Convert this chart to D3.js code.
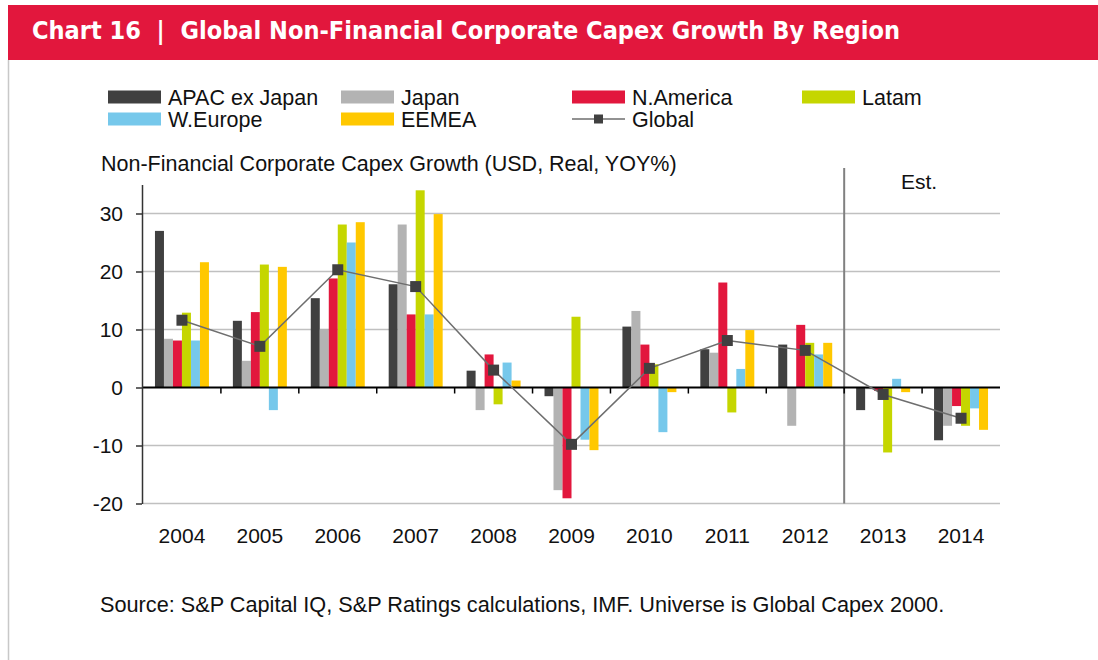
<!DOCTYPE html>
<html>
<head>
<meta charset="utf-8">
<script src="https://cdn.jsdelivr.net/npm/d3@7"></script>
<style>
  body { margin: 0; background: #fff; }
  svg { display: block; font-family: 'Liberation Sans', Arial, sans-serif; }
</style>
</head>
<body>
<svg id="chart"></svg>
<script>
// values (YOY %)
const years = ['2004', '2005', '2006', '2007', '2008', '2009', '2010', '2011', '2012', '2013', '2014'];
const apacExJapan = [27.0, 11.5, 15.4, 17.8, 2.9, -1.5, 10.5, 6.6, 7.4, -3.9, -9.1];
const japan = [8.4, 4.6, 10.1, 28.1, -3.9, -17.7, 13.2, 6.0, -6.6, -0.3, -6.6];
const nAmerica = [8.1, 13.0, 18.8, 12.6, 5.7, -19.1, 7.4, 18.1, 10.8, -0.6, -3.2];
const latam = [12.9, 21.2, 28.1, 34.0, -2.9, 12.2, 4.0, -4.3, 7.7, -11.2, -6.6];
const wEurope = [8.1, -3.9, 25.0, 12.6, 4.3, -9.0, -7.7, 3.2, 5.7, 1.5, -3.6];
const eemea = [21.6, 20.8, 28.5, 29.9, 1.2, -10.8, -0.8, 9.9, 7.7, -0.8, -7.3];
const globalAvg = [11.6, 7.1, 20.3, 17.4, 3.0, -9.8, 3.3, 8.1, 6.4, -1.2, -5.3];

const seriesNames = ['APAC ex Japan', 'Japan', 'N.America', 'Latam', 'W.Europe', 'EEMEA'];
const yTicks = [-20, -10, 0, 10, 20, 30];
const estFrom = '2013';

const width = 1098;
const height = 660;

const series = [apacExJapan, japan, nAmerica, latam, wEurope, eemea]
  .map((values, i) => ({ name: seriesNames[i], values }));

const color = d3.scaleOrdinal(seriesNames,
  ['#404040', '#b3b3b3', '#e2173d', '#c5d600', '#76c8eb', '#ffc800']);

const svg = d3.select('#chart')
  .attr('width', width)
  .attr('height', height);

// header banner
svg.append('rect')
  .attr('x', 8).attr('y', 5)
  .attr('width', width - 8).attr('height', 55)
  .attr('fill', '#e2173d');

svg.append('text')
  .attr('x', 32).attr('y', 39)
  .attr('fill', '#fff')
  .attr('font-family', "'Liberation Sans Narrow', 'DejaVu Sans Condensed', sans-serif")
  .attr('font-weight', 'bold')
  .attr('font-size', 24)
  .attr('textLength', 868)
  .attr('lengthAdjust', 'spacingAndGlyphs')
  .style('white-space', 'pre')
  .text('Chart 16  |  Global Non-Financial Corporate Capex Growth By Region');

svg.append('line')
  .attr('x1', 8.5).attr('x2', 8.5)
  .attr('y1', 60).attr('y2', height)
  .attr('stroke', '#c8c8c8')
  .attr('stroke-width', 1.5);

// scales
const x0 = d3.scaleBand()
  .domain(years)
  .range([143, 1000]);

const x1 = d3.scaleBand()
  .domain(seriesNames)
  .range([0, x0.bandwidth()])
  .paddingOuter(1.33);

const y = d3.scaleLinear()
  .domain([-20, 35])
  .range([503.5, 184.5]);

const cx = d => x0(d) + x0.bandwidth() / 2;

// gridlines
svg.append('g')
  .selectAll('line')
  .data(yTicks.filter(d => d !== 0))
  .join('line')
  .attr('x1', 143).attr('x2', 1000)
  .attr('y1', d => y(d)).attr('y2', d => y(d))
  .attr('stroke', '#c0c0c0')
  .attr('stroke-width', 1.5);

// estimate divider
svg.append('line')
  .attr('x1', x0(estFrom)).attr('x2', x0(estFrom))
  .attr('y1', 168).attr('y2', y(-20))
  .attr('stroke', '#808080')
  .attr('stroke-width', 2);

svg.append('text')
  .attr('x', 901).attr('y', 189)
  .attr('font-size', 21)
  .attr('fill', '#111')
  .text('Est.');

// bars
svg.append('g')
  .selectAll('g')
  .data(series)
  .join('g')
  .attr('fill', d => color(d.name))
  .selectAll('rect')
  .data(d => d.values.map((v, i) => ({ name: d.name, year: years[i], value: v })))
  .join('rect')
  .attr('x', d => x0(d.year) + x1(d.name))
  .attr('width', x1.bandwidth())
  .attr('y', d => y(Math.max(0, d.value)))
  .attr('height', d => Math.abs(y(d.value) - y(0)));

// zero line + category ticks
svg.append('line')
  .attr('x1', 143).attr('x2', 1000)
  .attr('y1', y(0)).attr('y2', y(0))
  .attr('stroke', '#000')
  .attr('stroke-width', 2);

svg.append('g')
  .selectAll('line')
  .data(years.slice(1))
  .join('line')
  .attr('x1', d => x0(d)).attr('x2', d => x0(d))
  .attr('y1', y(0)).attr('y2', y(0) + 6)
  .attr('stroke', '#000')
  .attr('stroke-width', 1.5);

// global line
svg.append('path')
  .datum(globalAvg)
  .attr('fill', 'none')
  .attr('stroke', '#6e6e6e')
  .attr('stroke-width', 1.5)
  .attr('d', d3.line()
    .x((d, i) => cx(years[i]))
    .y(d => y(d)));

svg.append('g')
  .selectAll('rect')
  .data(globalAvg)
  .join('rect')
  .attr('x', (d, i) => cx(years[i]) - 5.5)
  .attr('y', d => y(d) - 5.5)
  .attr('width', 11).attr('height', 11)
  .attr('fill', '#404040');

// y axis
const yAxis = svg.append('g')
  .attr('transform', 'translate(142,0)')
  .call(d3.axisLeft(y)
    .tickValues(yTicks)
    .tickFormat(d => String(d))
    .tickSize(6).tickSizeOuter(0).tickPadding(13));

yAxis.select('.domain').attr('stroke', '#333').attr('stroke-width', 1.5);
yAxis.selectAll('.tick line').attr('stroke', '#333').attr('stroke-width', 1.5);
yAxis.selectAll('.tick text')
  .attr('font-size', 21)
  .attr('font-family', "'Liberation Sans', Arial, sans-serif")
  .attr('fill', '#111');

// x labels
const xAxis = svg.append('g')
  .attr('transform', `translate(0,${y(-20)})`)
  .call(d3.axisBottom(x0).tickSize(0).tickPadding(25));

xAxis.select('.domain').remove();
xAxis.selectAll('.tick text')
  .attr('font-size', 21)
  .attr('font-family', "'Liberation Sans', Arial, sans-serif")
  .attr('fill', '#111');

// axis title
svg.append('text')
  .attr('x', 101).attr('y', 171)
  .attr('font-size', 21.5)
  .attr('fill', '#111')
  .text('Non-Financial Corporate Capex Growth (USD, Real, YOY%)');

// legend
const legendCols = [108, 341, 572, 802];
const legendRows = [97, 119];

const legend = svg.append('g')
  .selectAll('g')
  .data(seriesNames)
  .join('g')
  .attr('transform', (d, i) => `translate(${legendCols[i % 4]},${legendRows[Math.floor(i / 4)]})`);

legend.append('rect')
  .attr('y', -6.5)
  .attr('width', 53).attr('height', 13)
  .attr('fill', d => color(d));

legend.append('text')
  .attr('x', 60).attr('y', 7.5)
  .attr('font-size', 21.5)
  .attr('fill', '#111')
  .text(d => d);

const globalKey = svg.append('g')
  .attr('transform', `translate(${legendCols[2]},${legendRows[1]})`);

globalKey.append('line')
  .attr('x1', 0).attr('x2', 53)
  .attr('stroke', '#6e6e6e')
  .attr('stroke-width', 1.5);

globalKey.append('rect')
  .attr('x', 22).attr('y', -4.5)
  .attr('width', 9).attr('height', 9)
  .attr('fill', '#404040');

globalKey.append('text')
  .attr('x', 60).attr('y', 7.5)
  .attr('font-size', 21.5)
  .attr('fill', '#111')
  .text('Global');

// source note
svg.append('text')
  .attr('x', 100).attr('y', 612)
  .attr('font-size', 21.7)
  .attr('fill', '#111')
  .text('Source: S&P Capital IQ, S&P Ratings calculations, IMF. Universe is Global Capex 2000.');
</script>
</body>
</html>
